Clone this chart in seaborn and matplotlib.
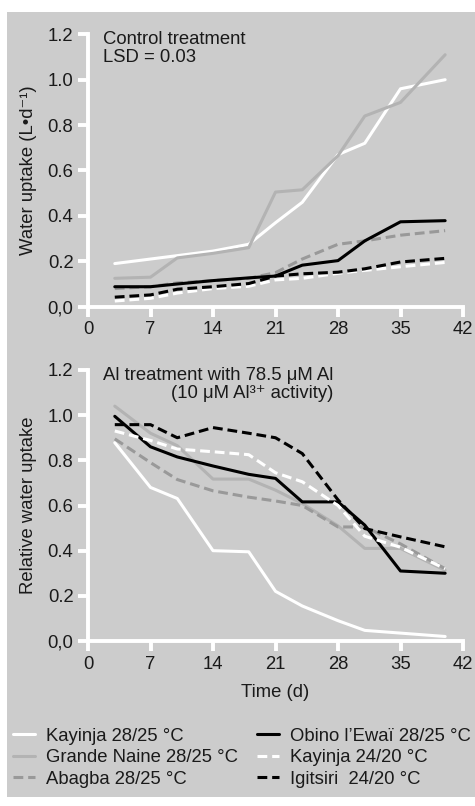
import pandas as pd
import matplotlib
matplotlib.use("Agg")
import matplotlib.pyplot as plt
from matplotlib.patches import Rectangle
import seaborn as sns

# ------------------------------------------------------------
# Data
# ------------------------------------------------------------
days = [3, 7, 10, 14, 18, 21, 24, 28, 31, 35, 40]

series = ["Kayinja 28/25 °C", "Grande Naine 28/25 °C", "Abagba 28/25 °C",
          "Obino l’Ewaï 28/25 °C", "Kayinja 24/20 °C", "Igitsiri  24/20 °C"]

# control treatment, water uptake (L d-1)
ctrl_kayinja_28 = [0.19, 0.21, 0.225, 0.245, 0.275, 0.37, 0.46, 0.67, 0.72, 0.96, 1.0]
ctrl_grande_naine = [0.125, 0.13, 0.215, 0.235, 0.26, 0.505, 0.515, 0.665, 0.84, 0.90, 1.11]
ctrl_abagba = [0.08, 0.088, 0.105, 0.115, 0.125, 0.15, 0.21, 0.275, 0.29, 0.315, 0.335]
ctrl_obino = [0.088, 0.088, 0.10, 0.115, 0.127, 0.135, 0.183, 0.203, 0.29, 0.374, 0.379]
ctrl_kayinja_24 = [0.025, 0.037, 0.06, 0.08, 0.09, 0.118, 0.125, 0.147, 0.16, 0.176, 0.195]
ctrl_igitsiri = [0.042, 0.052, 0.077, 0.088, 0.102, 0.135, 0.145, 0.152, 0.167, 0.197, 0.213]

# Al treatment, relative water uptake
al_kayinja_28 = [0.878, 0.68, 0.631, 0.40, 0.395, 0.22, 0.155, 0.09, 0.047, 0.035, 0.02]
al_grande_naine = [1.04, 0.92, 0.865, 0.717, 0.717, 0.668, 0.609, 0.51, 0.41, 0.41, 0.313]
al_abagba = [0.895, 0.79, 0.715, 0.665, 0.637, 0.62, 0.60, 0.505, 0.505, 0.43, 0.32]
al_obino = [0.995, 0.86, 0.815, 0.775, 0.738, 0.72, 0.616, 0.616, 0.513, 0.31, 0.30]
al_kayinja_24 = [0.93, 0.888, 0.85, 0.838, 0.825, 0.745, 0.705, 0.60, 0.464, 0.415, 0.32]
al_igitsiri = [0.958, 0.958, 0.90, 0.945, 0.92, 0.90, 0.83, 0.625, 0.498, 0.461, 0.417]

x_ticks = [0, 7, 14, 21, 28, 35, 42]
y_ticks = [0, 0.2, 0.4, 0.6, 0.8, 1.0, 1.2]
y_ticklabels = ["0,0", "0.2", "0.4", "0.6", "0.8", "1.0", "1.2"]

# ------------------------------------------------------------
# Style
# ------------------------------------------------------------
sns.set_theme(style="ticks")
plt.rcParams["font.family"] = ["Liberation Sans", "DejaVu Sans"]

FS = 13.3
TXT = "#1a1a1a"
BG = "#cccccc"
palette = dict(zip(series, ["white", "#b3b3b3", "#999999", "black", "white", "black"]))
dash = (3.2, 1.6)
dashes = dict(zip(series, ["", "", dash, "", dash, dash]))


def long_df(cols):
    frames = [pd.DataFrame({"day": days, "value": v, "series": s}) for s, v in zip(series, cols)]
    return pd.concat(frames, ignore_index=True)


ctrl = long_df([ctrl_kayinja_28, ctrl_grande_naine, ctrl_abagba,
                ctrl_obino, ctrl_kayinja_24, ctrl_igitsiri])
al = long_df([al_kayinja_28, al_grande_naine, al_abagba,
              al_obino, al_kayinja_24, al_igitsiri])

fig = plt.figure(figsize=(4.75, 8.06), dpi=100, facecolor="white")
# gray panel behind everything
fig.patches.append(Rectangle((7 / 475, 9 / 806), 1, 785 / 806, transform=fig.transFigure,
                             facecolor=BG, edgecolor="none", zorder=-5))

ax1 = fig.add_axes([88 / 475, 1 - 306.7 / 806, 375 / 475, 272.4 / 806])
ax2 = fig.add_axes([88 / 475, 1 - 641 / 806, 375 / 475, 271 / 806])

for ax, df in [(ax1, ctrl), (ax2, al)]:
    sns.lineplot(data=df, x="day", y="value", hue="series", style="series",
                 palette=palette, dashes=dashes, hue_order=series, style_order=series,
                 linewidth=2.2, errorbar=None, legend=False, ax=ax)
    ax.set_facecolor("none")
    ax.set_xlim(0, 42)
    ax.set_ylim(0, 1.2)
    ax.set_xticks(x_ticks)
    ax.set_yticks(y_ticks)
    ax.set_yticklabels(y_ticklabels)
    ax.tick_params(color="white", width=2.8, length=7, labelcolor=TXT,
                   labelsize=FS, pad=3.5)
    for side in ["top", "right"]:
        ax.spines[side].set_visible(False)
    for side in ["left", "bottom"]:
        ax.spines[side].set_color("white")
        ax.spines[side].set_linewidth(2.8)
    ax.set_xlabel("")

ax1.set_ylabel("Water uptake (L•d⁻¹)", fontsize=FS, color=TXT)
ax2.set_ylabel("Relative water uptake", fontsize=FS, color=TXT)
for ax in (ax1, ax2):
    ax.yaxis.set_label_coords(-0.135, 0.5)
ax2.set_xlabel("Time (d)", fontsize=FS, color=TXT, labelpad=8)

ax1.text(0.039, 1.012, "Control treatment\nLSD = 0.03", transform=ax1.transAxes,
         ha="left", va="top", fontsize=FS, color=TXT, linespacing=1.1)
ax2.text(0.039, 1.012, "Al treatment with 78.5 μM Al\n(10 μM Al³⁺ activity)",
         transform=ax2.transAxes, ha="left", va="top", ma="right",
         fontsize=FS, color=TXT, linespacing=1.1)

handles = ax2.get_lines()[:6]
fig.legend(handles, series, loc="upper left", bbox_to_anchor=(9 / 475, 1 - 724 / 806),
           ncol=2, frameon=False, fontsize=FS, handlelength=1.2, handletextpad=0.62,
           labelspacing=0.24, columnspacing=1.0, borderpad=0.2, borderaxespad=0,
           labelcolor=TXT)

fig.savefig("out.png", dpi=100, facecolor="white")
